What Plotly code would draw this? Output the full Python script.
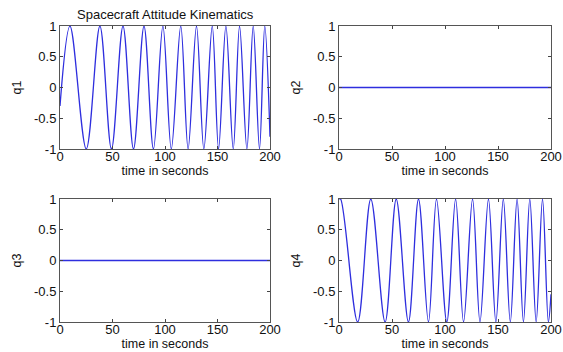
import plotly.graph_objects as go

# Extrema (time in seconds, value)
q1_t = [0, 9.5, 25, 38, 49, 60, 70, 80, 89, 98, 106, 115, 122, 130, 137, 145, 151, 158, 165, 171, 178, 184, 190, 195, 200]
q1_v = [-0.3, 1, -1, 1, -1, 1, -1, 1, -1, 1, -1, 1, -1, 1, -1, 1, -1, 1, -1, 1, -1, 1, -1, 1, -0.8]

q2_t = [0, 200]
q2_v = [0, 0]

q3_t = [0, 200]
q3_v = [0, 0]

q4_t = [0, 1.5, 17.6, 30, 43.5, 54, 65.5, 75, 84.4, 92, 101.7, 110, 117.5, 126, 133, 141, 148, 155, 161.6, 168, 174, 180, 186, 192, 197.5, 200]
q4_v = [1, 1, -1, 1, -1, 1, -1, 1, -1, 1, -1, 1, -1, 1, -1, 1, -1, 1, -1, 1, -1, 1, -1, 1, -1, -0.55]

x_ticks = [0, 50, 100, 150, 200]
y_ticks = [-1, -0.5, 0, 0.5, 1]
y_tick_text = ["-1", "-0.5", "0", "0.5", "1"]
y_labels = ["q1", "q2", "q3", "q4"]
x_label = "time in seconds"
title = "Spacecraft Attitude Kinematics"

W, H = 563, 352
FONT = "Liberation Sans, Arial, sans-serif"
LINE = "#2e2ede"

# panel pixel boxes (left, right, top, bottom)
boxes = [(60, 270, 26, 149), (339, 551, 26, 149), (60, 270, 199, 322), (339, 551, 199, 322)]
series = [(q1_t, q1_v), (q2_t, q2_v), (q3_t, q3_v), (q4_t, q4_v)]

fig = go.Figure()
layout = {}
for i, ((l, r, t, b), (xs, ys)) in enumerate(zip(boxes, series)):
    n = i + 1
    xa = "xaxis" if n == 1 else f"xaxis{n}"
    ya = "yaxis" if n == 1 else f"yaxis{n}"
    xr = "x" if n == 1 else f"x{n}"
    yr = "y" if n == 1 else f"y{n}"
    fig.add_trace(go.Scatter(x=xs, y=ys, mode="lines", xaxis=xr, yaxis=yr,
                             line=dict(color=LINE, width=1.3,
                                       shape="spline" if len(xs) > 2 else "linear",
                                       smoothing=1.0),
                             showlegend=False, hoverinfo="skip"))
    layout[xa] = dict(domain=[l / W, r / W], anchor=yr, range=[0, 200],
                      tickvals=x_ticks, ticks="inside", ticklen=3, mirror="ticks",
                      showline=True, linecolor="#555", linewidth=1, showgrid=False,
                      zeroline=False, automargin=False, ticklabelstandoff=-5,
                      tickfont=dict(size=13, color="#111", family=FONT),
                      title=dict(text=x_label, standoff=0,
                                 font=dict(size=12.5, color="#111", family=FONT)))
    layout[ya] = dict(domain=[1 - b / H, 1 - t / H], anchor=xr, range=[-1, 1],
                      tickvals=y_ticks, ticktext=y_tick_text,
                      ticks="inside", ticklen=3, mirror="ticks",
                      showline=True, linecolor="#555", linewidth=1, showgrid=False,
                      zeroline=False, automargin=False,
                      tickfont=dict(size=13, color="#111", family=FONT),
                      title=dict(text=y_labels[i], standoff=9,
                                 font=dict(size=12.5, color="#111", family=FONT)))

fig.update_layout(**layout)
fig.update_layout(
    width=W, height=H,
    margin=dict(l=0, r=0, t=0, b=0, autoexpand=False),
    paper_bgcolor="white", plot_bgcolor="white",
    annotations=[dict(text=title, x=(60 + 270) / 2 / W, y=1 - 15 / H,
                      xref="paper", yref="paper", showarrow=False,
                      xanchor="center", yanchor="middle",
                      font=dict(size=13, color="#111", family=FONT))],
)

fig.write_html("out.html",
               config={"displayModeBar": False},
               post_script="document.body.style.margin='0';document.body.style.overflow='hidden';")
